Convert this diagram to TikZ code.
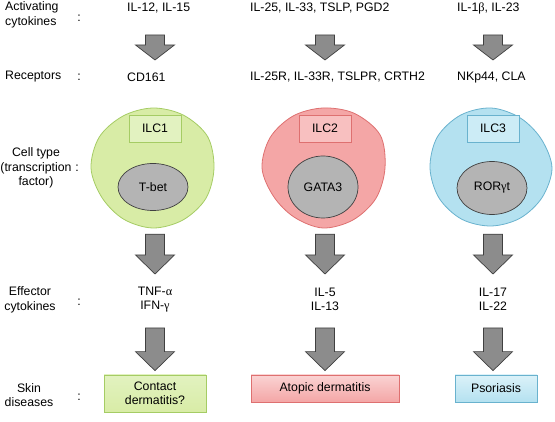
\documentclass[tikz,border=0pt]{standalone}
\usepackage{fontspec}
\setmainfont{Liberation Sans}
\newfontfamily\grk{Liberation Serif}
\usepackage{tikz}
\usepackage{xcolor}
\usetikzlibrary{shapes.geometric, positioning, calc}

\definecolor{greenfill}{RGB}{216,236,166}
\definecolor{greenedge}{RGB}{165,204,100}
\definecolor{greenbox}{RGB}{226,242,192}
\definecolor{redfill}{RGB}{244,166,166}
\definecolor{rededge}{RGB}{222,112,112}
\definecolor{redbox}{RGB}{248,192,192}
\definecolor{bluefill}{RGB}{180,225,240}
\definecolor{blueedge}{RGB}{105,178,206}
\definecolor{bluebox}{RGB}{204,236,246}
\definecolor{nucgray}{RGB}{180,180,180}
\definecolor{arrowgray}{RGB}{140,140,140}
\definecolor{darkedge}{RGB}{64,64,64}

\begin{document}
\begin{tikzpicture}[x=1pt, y=-1pt, on grid, font=\fontsize{12.3pt}{14.5pt}\selectfont]
\tikzstyle{rowlabel} = [align=center, inner sep=0pt]
\tikzstyle{entry} = [align=center, inner sep=0pt]
\tikzstyle{ilcbox} = [rectangle, draw, line width=0.7pt, minimum width=52pt, minimum height=27pt, inner sep=0pt]
\tikzstyle{nucleus} = [ellipse, draw=darkedge, fill=nucgray, line width=0.7pt, minimum width=70pt, inner sep=0pt]
\tikzstyle{disease} = [rectangle, draw, line width=0.7pt, minimum height=27pt, align=center, inner sep=0pt]
\tikzstyle{cellbody} = [circle, minimum size=120pt, inner sep=0pt]
\tikzstyle{membrane} = [line width=0.8pt, smooth cycle, tension=0.55]
\tikzset{blockarrow/.style={draw=darkedge, fill=arrowgray, line width=0.7pt, line join=miter,
  to path={let \p1=(\tikztostart), \p2=(\tikztotarget) in
    (\x1-9.5pt,\y1) -- (\x1+9.5pt,\y1) -- (\x1+9.5pt,\y2+#1) -- (\x1+19.5pt,\y2+#1)
    -- (\x1,\y2) -- (\x1-19.5pt,\y2+#1) -- (\x1-9.5pt,\y2+#1) -- cycle}},
  blockarrow/.default=19pt}

\useasboundingbox (0,0) rectangle (555,422);

% row labels
\node [rowlabel, anchor=west, align=left] (labAct) at (5,15) {Activating\\cytokines};
\node [rowlabel, anchor=west] (labRec) at (5,77) {Receptors};
\node [rowlabel] (labCell) at (36,168) {Cell type\\(transcription\\factor)};
\node [rowlabel] (labEff) at (30,300) {Effector\\cytokines};
\node [rowlabel] (labSkin) at (29,395) {Skin\\diseases};

\node [rowlabel] (colAct) at (79,18) {:};
\node [rowlabel] (colRec) at (79,77) {:};
\node [rowlabel] (colCell) at (77,168) {:};
\node [rowlabel] (colEff) at (79,302) {:};
\node [rowlabel] (colSkin) at (79,397) {:};

% cytokines and receptors
\node [entry, anchor=west] (cytA) at (127,8) {IL-12, IL-15};
\node [entry, anchor=west] (cytB) at (250,8) {IL-25, IL-33, TSLP, PGD2};
\node [entry, anchor=west] (cytC) at (457,8) {IL-1{\grk β}, IL-23};
\node [entry, below=69pt of cytA.west, anchor=west] (recA) {CD161};
\node [entry, below=69pt of cytB.west, anchor=west] (recB) {IL-25R, IL-33R, TSLPR, CRTH2};
\node [entry, below=69pt of cytC.west, anchor=west] (recC) {NKp44, CLA};

% cells
\node [cellbody] (cellA) at (155,168) {};
\node [cellbody, right=170pt of cellA] (cellB) {};
\node [cellbody, right=168pt of cellB] (cellC) {};

\begin{scope}[shift={(cellA)}, xshift=-2pt]
\draw [membrane, fill=greenfill, draw=greenedge] plot coordinates {(0:61) (30:61) (60:60) (90:60)
  (120:59) (150:59) (180:62) (210:62) (240:60) (270:60) (300:61) (330:63)};
\end{scope}
\begin{scope}[shift={(cellB)}, xshift=-2pt]
\draw [membrane, fill=redfill, draw=rededge] plot coordinates {(0:62) (30:61) (60:60) (90:60)
  (120:57) (150:57) (180:61) (210:61) (240:60) (270:60) (300:63) (330:66)};
\end{scope}
\begin{scope}[shift={(cellC)}, xshift=-2pt]
\draw [membrane, fill=bluefill, draw=blueedge] plot coordinates {(0:61) (30:59) (60:58) (90:58)
  (120:59) (150:60) (180:61) (210:62) (240:61) (270:60) (300:58) (330:58)};
\end{scope}

\node [ilcbox, fill=greenbox, draw=greenedge, above=39.5pt of cellA] (ilcA) {ILC1};
\node [ilcbox, fill=redbox, draw=rededge, above=39.5pt of cellB] (ilcB) {ILC2};
\node [ilcbox, fill=bluebox, draw=blueedge, above=39.5pt of cellC] (ilcC) {ILC3};

\node [nucleus, minimum height=47pt, below=19pt of cellA, xshift=-2pt] (nucA) {T-bet};
\node [nucleus, minimum height=62pt, below=19pt of cellB, xshift=-2pt] (nucB) {GATA3};
\node [nucleus, minimum height=53pt, below=20pt of cellC, xshift=-1pt] (nucC) {ROR{\grk γ}t};

% effector cytokines
\node [entry, below=131.5pt of cellA] (effA) {TNF-{\grk α}\\IFN-{\grk γ}};
\node [entry, below=131.5pt of cellB] (effB) {IL-5\\IL-13};
\node [entry, below=131.5pt of cellC] (effC) {IL-17\\IL-22};

% skin diseases
\node [disease, top color=greenbox, bottom color=greenfill, draw=greenedge,
  minimum width=102pt, minimum height=37pt, below=94pt of effA] (disA) {Contact\\dermatitis?};
\node [disease, top color=redbox!70!white, bottom color=redfill, draw=rededge,
  minimum width=148pt, below=89pt of effB] (disB) {Atopic dermatitis};
\node [disease, top color=bluebox!70!white, bottom color=bluefill, draw=blueedge,
  minimum width=82pt, below=89pt of effC, xshift=3pt] (disC) {Psoriasis};

% arrows
\draw [blockarrow=15pt] ($(cellA |- cytA.center)+(0,27)$) to ($(cellA |- recA.center)+(0,-17)$);
\draw [blockarrow=15pt] ($(cellB |- cytB.center)+(0,27)$) to ($(cellB |- recB.center)+(0,-17)$);
\draw [blockarrow=15pt] ($(cellC |- cytC.center)+(0,27)$) to ($(cellC |- recC.center)+(0,-17)$);
\draw [blockarrow] ($(cellA.south)+(0,6)$) to ($(effA.center)+(0,-25.5)$);
\draw [blockarrow] ($(cellB.south)+(0,6)$) to ($(effB.center)+(0,-25.5)$);
\draw [blockarrow] ($(cellC.south)+(0,6)$) to ($(effC.center)+(0,-25.5)$);
\draw [blockarrow] ($(effA.center)+(0,28.5)$) to ($(disA.north)+(0,-4)$);
\draw [blockarrow] ($(effB.center)+(0,28.5)$) to ($(disB.north)+(0,-4)$);
\draw [blockarrow] ($(effC.center)+(0,28.5)$) to ($(effC.center |- disC.north)+(0,-4)$);

\end{tikzpicture}
\end{document}
